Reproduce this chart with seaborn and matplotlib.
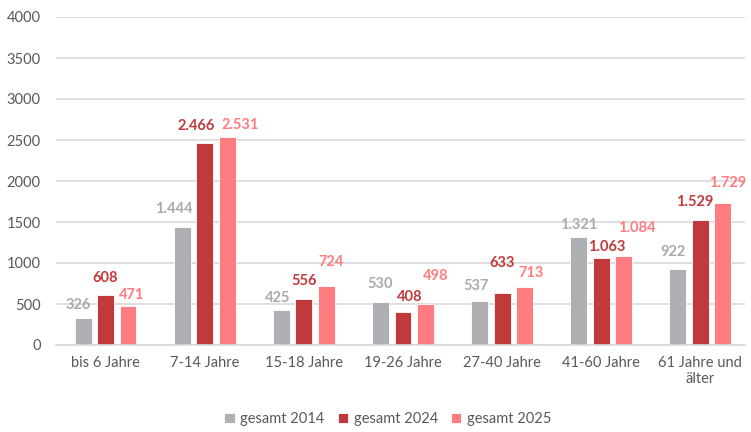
import matplotlib
matplotlib.use("Agg")
import matplotlib.pyplot as plt
import seaborn as sns
import pandas as pd

categories = ["bis 6 Jahre", "7-14 Jahre", "15-18 Jahre", "19-26 Jahre",
              "27-40 Jahre", "41-60 Jahre", "61 Jahre und\nälter"]
series_names = ["gesamt 2014", "gesamt 2024", "gesamt 2025"]
values_2014 = [326, 1444, 425, 530, 537, 1321, 922]
values_2024 = [608, 2466, 556, 408, 633, 1063, 1529]
values_2025 = [471, 2531, 724, 498, 713, 1084, 1729]
y_ticks = [0, 500, 1000, 1500, 2000, 2500, 3000, 3500, 4000]

# label offsets from bar tops (pixels), styling only
label_dy = {
    "gesamt 2014": [13, 18, 12, 18, 15, 12, 17],
    "gesamt 2024": [17, 17, 18, 15, 30, 11, 18],
    "gesamt 2025": [11, 12, 24, 28, 14, 28, 20],
}
label_dx = {
    "gesamt 2014": [-5, -8, -4, 0, -4, 0, -5],
    "gesamt 2024": [0, -9, 0, 7, 0, 6, -6],
    "gesamt 2025": [4, 13, 5, 10, 6, 13, 5],
}

colors = ["#AFB0B3", "#C0393B", "#FF7C80"]
label_colors = ["#A9AAAD", "#C0393B", "#FF7C80"]

df = pd.DataFrame({
    "Kategorie": categories * 3,
    "Serie": [series_names[0]] * 7 + [series_names[1]] * 7 + [series_names[2]] * 7,
    "Wert": values_2014 + values_2024 + values_2025,
})

sns.set_theme(style="white")
plt.rcParams["font.family"] = ["Lato", "DejaVu Sans"]

fig = plt.figure(figsize=(7.51, 4.32), dpi=100)
ax = fig.add_axes([56 / 751, 1 - 345 / 432, 689 / 751, 328 / 432])

sns.barplot(data=df, x="Kategorie", y="Wert", hue="Serie", hue_order=series_names,
            order=categories, palette=colors, saturation=1, width=0.68, gap=0.25,
            edgecolor="white", linewidth=0.6, ax=ax, legend=True)

ax.set_xlim(-0.5, 6.45)
ax.set_ylim(0, 4000)
ax.set_yticks(y_ticks)
ax.set_yticklabels([str(t) for t in y_ticks])
ax.yaxis.grid(True, color="#D9D9D9", linewidth=1.2)
ax.set_axisbelow(True)
for s in ["top", "right", "left"]:
    ax.spines[s].set_visible(False)
ax.spines["bottom"].set_color("#D9D9D9")
ax.spines["bottom"].set_linewidth(1.2)
ax.set_xlabel("")
ax.set_ylabel("")
ax.tick_params(axis="y", length=0, pad=11, labelsize=10.5, labelcolor="#595959")
ax.tick_params(axis="x", length=0, pad=8, labelsize=10.5, labelcolor="#595959")

all_vals = [values_2014, values_2024, values_2025]
for si, cont in enumerate(ax.containers):
    name = series_names[si]
    for ci, bar in enumerate(cont):
        v = all_vals[si][ci]
        txt = f"{v:,}".replace(",", ".")
        x = bar.get_x() + bar.get_width() / 2
        ax.annotate(txt, (x, bar.get_height()),
                    xytext=(label_dx[name][ci], label_dy[name][ci]),
                    textcoords="offset pixels", ha="center", va="center",
                    fontsize=10.5, fontweight="bold", color=label_colors[si])

leg = ax.get_legend()
leg.remove()
handles, labels = ax.get_legend_handles_labels()
fig.legend(handles[:3], labels[:3], loc="center", bbox_to_anchor=(388 / 751, 1 - 419 / 432),
           ncol=3, frameon=False, fontsize=10.5, handlelength=0.7, handleheight=0.7,
           handletextpad=0.4, columnspacing=0.9, labelcolor="#595959")

fig.savefig("out.png", dpi=100)
